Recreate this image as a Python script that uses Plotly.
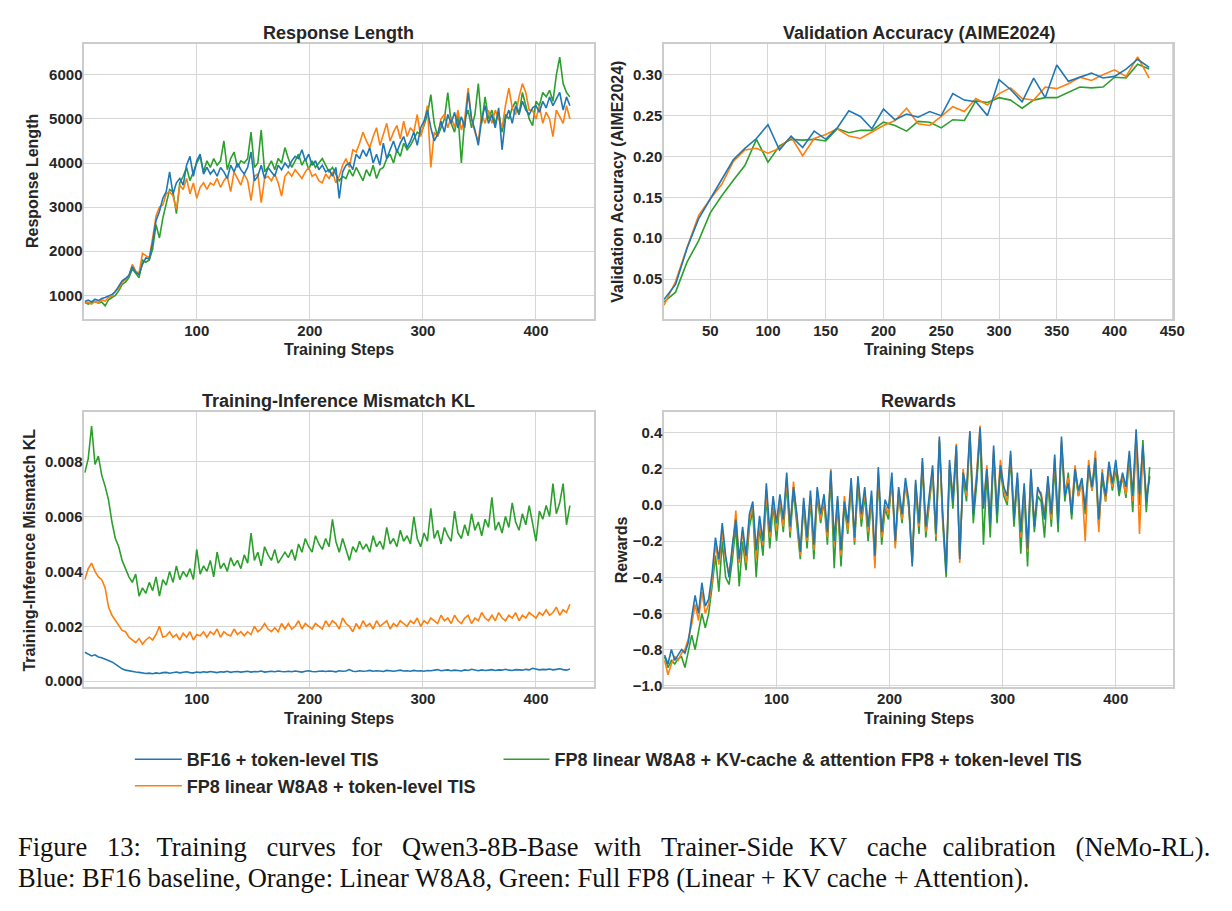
import plotly.graph_objects as go

# ---------------- data ----------------
steps = list(range(1, 431, 3))          # training steps (sampled every 3)
val_steps = list(range(10, 431, 10))    # validation every 10 steps

resp_bf16 = [
    860, 890, 850, 910, 880, 930, 950, 980, 1020, 1080, 1200, 1330,
    1380, 1450, 1650, 1520, 1470, 1700, 1850, 1820, 2200, 2700, 2900, 3200,
    3350, 3800, 3300, 3550, 3650, 3500, 3950, 4150, 3700, 4050, 4200, 3750,
    3900, 3750, 3850, 3700, 3900, 3800, 3650, 3950, 3800, 4000, 3850, 3750,
    3900, 4250, 3600, 3700, 3950, 3650, 3900, 3800, 3700, 3950, 3850, 4000,
    3900, 4050, 4150, 4100, 4300, 4050, 4200, 3950, 4050, 3850, 3950, 3800,
    3850, 3700, 3900, 3200, 3800, 3950, 4000, 3850, 4200, 4100, 4300, 4150,
    4350, 4000, 4200, 3950, 4450, 4100, 4300, 4500, 4250, 4450, 4600, 4350,
    4500, 4700, 4400, 4800, 4950, 5200, 4800, 4500, 4650, 4950, 4700, 5100,
    4900, 5150, 4800, 5050, 4800, 5600, 5000, 4750, 4400, 5000, 5300, 4900,
    5100, 4800, 5250, 4300, 5000, 5200, 4900, 5300, 5100, 5400, 5200, 5100,
    5250, 5300, 5150, 5400, 5250, 5500, 5300, 5450, 5600, 5200, 5500, 5300,
]
resp_fp8lin = [
    820, 840, 800, 860, 830, 900, 870, 950, 980, 1100, 1150, 1300,
    1350, 1450, 1700, 1550, 1500, 1950, 1900, 1850, 2300, 2800, 3000, 3050,
    3300, 3350, 3250, 2950, 3500, 3400, 3650, 3300, 3550, 3200, 3450, 3550,
    3400, 3550, 3500, 3650, 3450, 3600, 3700, 3350, 3800, 3650, 3500, 3750,
    3600, 3150, 3700, 3750, 3100, 3650, 3700, 3600, 3750, 3550, 3250, 3700,
    3800, 3700, 3850, 3750, 3650, 3800, 3900, 3700, 3750, 3600, 3550, 3750,
    3650, 3800, 3550, 3700, 3950, 4100, 3900, 4300, 4250, 4450, 4700, 4500,
    4350, 4600, 4800, 4400, 4650, 4900, 4500, 4700, 4850, 4550, 4950, 4600,
    4800, 4700, 5100, 4600, 4900, 5300, 3900, 4700, 4600, 5000, 5100, 4800,
    5050, 4800, 5200, 4750, 5000, 5700, 5000, 4700, 4500, 5100, 4900, 5200,
    4900, 5200, 5000, 4800, 5300, 5700, 5250, 5100, 5500, 5800, 5600, 5200,
    5200, 5000, 5300, 4900, 5150, 5000, 4600, 5200, 5050, 4900, 5300, 5000,
]
resp_fp8full = [
    840, 800, 830, 860, 820, 850, 760, 900, 950, 1000, 1100, 1250,
    1300, 1400, 1600, 1500, 1400, 1800, 1750, 1800, 2050, 2600, 2300, 2750,
    3100, 3400, 3350, 2850, 3550, 3700, 3900, 3600, 3800, 4000, 4150, 3800,
    4050, 3900, 4100, 3950, 4050, 4500, 3850, 4100, 4250, 3900, 4050, 4000,
    4100, 4700, 3900, 4000, 4750, 3800, 3900, 4050, 3850, 4100, 4000, 4350,
    4100, 3900, 4050, 4200, 3950, 4100, 3850, 4050, 3900, 4000, 4100, 3950,
    3800, 3900, 3750, 3600, 3700, 3650, 3850, 3700, 3900, 3750, 3600, 3850,
    3700, 3950, 3650, 3850, 3900, 4100, 4200, 4000, 4300, 4150, 4450, 4300,
    4400, 4550, 4700, 4650, 4850, 5100, 5550, 4900, 4600, 4800, 5000, 5600,
    4900, 4700, 5100, 4000, 5000, 5200, 4800, 5100, 5800, 4900, 5500, 5000,
    5200, 4900, 5150, 4700, 5100, 5000, 5250, 5400, 5100, 5600, 5300, 5000,
    4850, 5400, 5300, 5600, 5500, 5650, 5400, 6000, 6400, 5800, 5600, 5500,
]

val_bf16 = [0.025, 0.0435, 0.088, 0.124, 0.148, 0.172, 0.196, 0.210, 0.222, 0.239,
            0.208, 0.225, 0.211, 0.231, 0.221, 0.235, 0.256, 0.249, 0.234, 0.258,
            0.245, 0.252, 0.248, 0.255, 0.250, 0.277, 0.269, 0.267, 0.250, 0.294,
            0.282, 0.267, 0.296, 0.272, 0.312, 0.292, 0.297, 0.302, 0.296, 0.298,
            0.307, 0.319, 0.309]
val_fp8lin = [0.018, 0.047, 0.089, 0.128, 0.148, 0.166, 0.194, 0.208, 0.210, 0.204,
              0.210, 0.224, 0.201, 0.222, 0.227, 0.234, 0.225, 0.222, 0.230, 0.238,
              0.244, 0.259, 0.240, 0.238, 0.249, 0.261, 0.255, 0.271, 0.263, 0.277,
              0.284, 0.271, 0.269, 0.285, 0.283, 0.289, 0.297, 0.293, 0.300, 0.306,
              0.298, 0.322, 0.296]
val_fp8full = [0.022, 0.034, 0.071, 0.097, 0.131, 0.152, 0.171, 0.189, 0.221, 0.193,
               0.213, 0.221, 0.220, 0.221, 0.219, 0.234, 0.229, 0.232, 0.232, 0.242,
               0.238, 0.231, 0.243, 0.242, 0.235, 0.245, 0.244, 0.268, 0.266, 0.272,
               0.269, 0.259, 0.269, 0.272, 0.272, 0.279, 0.285, 0.284, 0.285, 0.297,
               0.296, 0.313, 0.307]

kl_bf16 = [
    0.00105, 0.00098, 0.00092, 0.00096, 0.00088, 0.00085, 0.00080, 0.00076, 0.00070, 0.00062, 0.00052, 0.00045,
    0.00040, 0.00037, 0.00035, 0.00033, 0.00032, 0.00030, 0.00028, 0.00029, 0.00027, 0.00030, 0.00028, 0.00031,
    0.00032, 0.00029, 0.00031, 0.00033, 0.00030, 0.00032, 0.00034, 0.00031, 0.00030, 0.00033, 0.00031, 0.00034,
    0.00032, 0.00035, 0.00033, 0.00031, 0.00034, 0.00033, 0.00036, 0.00032, 0.00034, 0.00035, 0.00033, 0.00034,
    0.00036, 0.00033, 0.00035, 0.00034, 0.00037, 0.00033, 0.00035, 0.00036, 0.00034, 0.00037, 0.00035, 0.00034,
    0.00036, 0.00034, 0.00037, 0.00035, 0.00033, 0.00036, 0.00038, 0.00035, 0.00034, 0.00036, 0.00037, 0.00035,
    0.00037, 0.00036, 0.00034, 0.00038, 0.00036, 0.00037, 0.00042, 0.00036, 0.00035, 0.00038, 0.00036, 0.00037,
    0.00039, 0.00036, 0.00038, 0.00037, 0.00035, 0.00039, 0.00037, 0.00036, 0.00038, 0.00040, 0.00037, 0.00038,
    0.00036, 0.00039, 0.00037, 0.00038, 0.00036, 0.00039, 0.00038, 0.00040, 0.00042, 0.00038, 0.00039, 0.00041,
    0.00038, 0.00040, 0.00039, 0.00037, 0.00041, 0.00039, 0.00043, 0.00040, 0.00038, 0.00041, 0.00039, 0.00040,
    0.00042, 0.00039, 0.00041, 0.00040, 0.00043, 0.00040, 0.00039, 0.00042, 0.00041, 0.00040, 0.00043, 0.00041,
    0.00047, 0.00044, 0.00041, 0.00043, 0.00042, 0.00044, 0.00041, 0.00043, 0.00045, 0.00042, 0.00040, 0.00044,
]
kl_fp8lin = [
    0.0037, 0.0041, 0.0043, 0.0040, 0.0038, 0.0037, 0.0034, 0.0027, 0.0024, 0.0022, 0.0020, 0.00185,
    0.0018, 0.0016, 0.0015, 0.0014, 0.00155, 0.00135, 0.0015, 0.0016, 0.0015, 0.0017, 0.0020, 0.0016,
    0.00165, 0.0018, 0.0016, 0.0017, 0.0015, 0.00175, 0.0016, 0.0018, 0.0015, 0.0017, 0.00165, 0.0018,
    0.0016, 0.0018, 0.0017, 0.0019, 0.0016, 0.0018, 0.0017, 0.00165, 0.0019, 0.0017, 0.0018, 0.00165,
    0.0018, 0.0017, 0.0020, 0.0018, 0.0019, 0.0021, 0.0019, 0.0018, 0.00195, 0.0018, 0.0021, 0.0019,
    0.0021, 0.0019, 0.0020, 0.0022, 0.0019, 0.0021, 0.0020, 0.0019, 0.0021, 0.0020, 0.0019, 0.0022,
    0.0020, 0.0022, 0.0021, 0.0019, 0.0023, 0.0021, 0.0020, 0.0018, 0.0021, 0.0019, 0.0022, 0.0020,
    0.0021, 0.0019, 0.0022, 0.0020, 0.0021, 0.0022, 0.0019, 0.0021, 0.0020, 0.0022, 0.0021, 0.0020,
    0.0022, 0.0021, 0.0023, 0.0020, 0.0022, 0.0021, 0.0023, 0.0022, 0.0021, 0.0024, 0.0022, 0.0023,
    0.0021, 0.0024, 0.0022, 0.0021, 0.0023, 0.0024, 0.0021, 0.0023, 0.0022, 0.0025, 0.0023, 0.0022,
    0.0024, 0.0022, 0.0025, 0.0023, 0.0022, 0.0024, 0.0023, 0.0025, 0.0022, 0.0024, 0.0023, 0.0025,
    0.0024, 0.0023, 0.0025, 0.0024, 0.0026, 0.0024, 0.0025, 0.0027, 0.0024, 0.0026, 0.0025, 0.0028,
]
kl_fp8full = [
    0.0076, 0.0081, 0.0093, 0.0079, 0.0082, 0.0075, 0.0071, 0.0066, 0.0058, 0.0052, 0.0049, 0.0044,
    0.0041, 0.0038, 0.0036, 0.0039, 0.0031, 0.0034, 0.0032, 0.0036, 0.0033, 0.0038, 0.0031, 0.0037,
    0.0035, 0.0040, 0.0036, 0.0042, 0.0037, 0.0040, 0.0038, 0.0041, 0.0037, 0.0048, 0.0039, 0.0042,
    0.0040, 0.0044, 0.0038, 0.0047, 0.0041, 0.0043, 0.0040, 0.0045, 0.0042, 0.0044, 0.0041, 0.0046,
    0.0043, 0.0054, 0.0044, 0.0047, 0.0042, 0.0049, 0.0046, 0.0044, 0.0048, 0.0043, 0.0045, 0.0047,
    0.0045, 0.0048, 0.0044, 0.0050, 0.0047, 0.0052, 0.0049, 0.0047, 0.0053, 0.0050, 0.0048, 0.0052,
    0.0049, 0.0059, 0.0051, 0.0047, 0.0052, 0.0048, 0.0044, 0.0049, 0.0047, 0.0051, 0.0048, 0.0050,
    0.0047, 0.0053, 0.0049, 0.0051, 0.0048, 0.0056, 0.0050, 0.0052, 0.0049, 0.0055, 0.0051, 0.0053,
    0.0050, 0.0060, 0.0052, 0.0049, 0.0054, 0.0051, 0.0063, 0.0052, 0.0055, 0.0050, 0.0056, 0.0053,
    0.0051, 0.0062, 0.0054, 0.0052, 0.0057, 0.0053, 0.0061, 0.0055, 0.0058, 0.0053, 0.0059, 0.0056,
    0.0067, 0.0055, 0.0058, 0.0054, 0.0060, 0.0056, 0.0065, 0.0058, 0.0055, 0.0061, 0.0057, 0.0064,
    0.0058, 0.0051, 0.0062, 0.0059, 0.0064, 0.0060, 0.0072, 0.0061, 0.0065, 0.0072, 0.0057, 0.0064,
]

rew_bf16 = [
    -0.83, -0.88, -0.80, -0.86, -0.83, -0.80, -0.82, -0.76, -0.62, -0.50, -0.60, -0.43,
    -0.56, -0.52, -0.38, -0.18, -0.30, -0.10, -0.28, -0.40, -0.22, -0.08, -0.30, -0.12,
    -0.28, -0.05, 0.02, -0.25, -0.06, -0.20, 0.12, -0.15, 0.05, -0.10, 0.06, -0.08,
    0.18, -0.12, 0.10, -0.05, -0.26, 0.04, -0.18, 0.08, -0.22, 0.10, -0.05, 0.06,
    -0.15, 0.19, -0.20, 0.05, -0.25, 0.02, -0.10, 0.15, -0.18, 0.16, -0.05, 0.10,
    -0.12, 0.08, -0.28, 0.21, -0.15, 0.03, -0.02, 0.18, -0.20, 0.10, -0.05, 0.15,
    0.02, -0.34, 0.14, -0.10, 0.26, -0.12, 0.05, 0.22, -0.16, 0.38, -0.05, -0.37,
    0.25, 0.02, 0.33, -0.30, 0.18, 0.08, 0.41, -0.05, 0.15, 0.43, -0.02, 0.20,
    -0.10, 0.33, -0.05, 0.22, 0.10, 0.05, 0.30, -0.08, 0.18, -0.15, 0.12, -0.24,
    0.20, -0.12, 0.10, 0.05, -0.08, 0.16, -0.05, 0.28, -0.10, 0.38, 0.05, 0.12,
    -0.05, 0.20, 0.08, 0.15, -0.02, 0.22, 0.10, 0.26, -0.08, 0.18, 0.05, 0.24,
    0.12, 0.25, 0.08, 0.18, 0.10, 0.30, 0.05, 0.42, 0.06, 0.33, 0.02, 0.16,
]
rew_fp8lin = [
    -0.86, -0.94, -0.88, -0.84, -0.86, -0.82, -0.80, -0.74, -0.66, -0.55, -0.64, -0.48,
    -0.60, -0.55, -0.42, -0.22, -0.33, -0.15, -0.30, -0.38, -0.25, -0.03, -0.32, -0.14,
    -0.32, -0.08, 0.00, -0.30, -0.10, -0.22, 0.08, -0.18, 0.03, -0.14, 0.04, -0.12,
    0.15, -0.15, 0.13, -0.08, -0.28, 0.02, -0.20, 0.05, -0.25, 0.08, -0.08, 0.03,
    -0.18, 0.20, -0.22, 0.03, -0.28, 0.05, -0.14, 0.12, -0.20, 0.14, -0.08, 0.08,
    -0.15, 0.05, -0.35, 0.18, -0.18, 0.00, -0.05, 0.15, -0.24, 0.08, -0.08, 0.12,
    0.00, -0.30, 0.12, -0.12, 0.24, -0.15, 0.02, 0.20, -0.18, 0.36, -0.08, -0.34,
    0.22, 0.05, 0.34, -0.32, 0.20, 0.05, 0.40, -0.02, 0.18, 0.44, 0.00, 0.22,
    -0.08, 0.30, -0.02, 0.25, 0.08, 0.02, 0.28, -0.05, 0.15, -0.18, 0.10, -0.26,
    0.18, -0.10, 0.08, 0.07, -0.05, 0.14, -0.08, 0.26, -0.08, 0.35, 0.08, 0.15,
    -0.02, 0.22, 0.05, 0.12, -0.20, 0.25, 0.08, 0.30, -0.15, 0.20, 0.02, 0.20,
    0.10, 0.22, 0.12, 0.15, 0.06, 0.28, 0.02, 0.38, -0.16, 0.30, 0.05, 0.15,
]
rew_fp8full = [
    -0.84, -0.90, -0.86, -0.88, -0.85, -0.84, -0.90, -0.80, -0.72, -0.80, -0.70, -0.60,
    -0.68, -0.60, -0.45, -0.28, -0.48, -0.20, -0.40, -0.44, -0.30, -0.12, -0.45, -0.20,
    -0.36, -0.12, -0.03, -0.40, -0.12, -0.28, 0.05, -0.24, 0.00, -0.20, 0.02, -0.15,
    0.12, -0.18, 0.08, -0.10, -0.30, 0.00, -0.24, 0.03, -0.30, 0.05, -0.10, 0.02,
    -0.22, 0.16, -0.35, 0.02, -0.34, 0.00, -0.16, 0.10, -0.22, 0.12, -0.12, 0.06,
    -0.20, 0.04, -0.32, 0.16, -0.22, -0.02, -0.08, 0.14, -0.22, 0.06, -0.10, 0.12,
    -0.02, -0.32, 0.10, -0.16, 0.22, -0.18, 0.00, 0.18, -0.20, 0.35, -0.10, -0.40,
    0.20, -0.02, 0.30, -0.28, 0.15, 0.02, 0.38, -0.10, 0.12, 0.40, -0.22, 0.18,
    -0.18, 0.28, -0.10, 0.20, 0.05, 0.00, 0.26, -0.12, 0.14, -0.27, 0.08, -0.34,
    0.15, -0.15, 0.05, 0.02, -0.18, 0.12, -0.12, 0.22, -0.15, 0.33, 0.02, 0.18,
    -0.08, 0.18, 0.05, 0.14, -0.05, 0.20, 0.08, 0.22, -0.12, 0.15, 0.02, 0.22,
    0.08, 0.20, 0.05, 0.16, 0.04, 0.26, -0.04, 0.36, 0.00, 0.36, -0.04, 0.21,
]

series_names = {
    "bf16": "BF16 + token-level TIS",
    "fp8lin": "FP8 linear W8A8 + token-level TIS",
    "fp8full": "FP8 linear W8A8 + KV-cache & attention FP8 + token-level TIS",
}
panel_titles = ["Response Length", "Validation Accuracy (AIME2024)",
                "Training-Inference Mismatch KL", "Rewards"]
y_titles = ["Response Length", "Validation Accuracy (AIME2024)",
            "Training-Inference Mismatch KL", "Rewards"]
x_title = "Training Steps"
caption_lines = [
    "Figure 13: Training curves for Qwen3-8B-Base with Trainer-Side KV cache calibration (NeMo-RL).",
    "Blue: BF16 baseline, Orange: Linear W8A8, Green: Full FP8 (Linear + KV cache + Attention).",
]

# ---------------- styling ----------------
W, H = 1232, 911
colors = {"bf16": "#1f77b4", "fp8lin": "#ff7f0e", "fp8full": "#2ca02c"}
legend_of = {"bf16": "legend", "fp8lin": "legend", "fp8full": "legend2"}
ranks = {"bf16": 1, "fp8lin": 2, "fp8full": 3}
draw_order = ["fp8full", "fp8lin", "bf16"]
SANS = "Liberation Sans, Arial, Helvetica, sans-serif"
TXT = "#262626"

def px_x(p):
    return p / W

def px_y(p):
    return (H - p) / H

# panel frames in pixels (left, top, right, bottom)
frames = [(85, 44, 599, 321), (670, 44, 1184, 321),
          (85, 415, 599, 692), (670, 415, 1184, 692)]

panels = [
    (steps, {"bf16": resp_bf16, "fp8lin": resp_fp8lin, "fp8full": resp_fp8full}),
    (val_steps, {"bf16": val_bf16, "fp8lin": val_fp8lin, "fp8full": val_fp8full}),
    (steps, {"bf16": kl_bf16, "fp8lin": kl_fp8lin, "fp8full": kl_fp8full}),
    (steps, {"bf16": rew_bf16, "fp8lin": rew_fp8lin, "fp8full": rew_fp8full}),
]

x_ranges = [[0.5, 451], [10, 451], [0.5, 451], [0.5, 451]]
y_ranges = [[465, 6706], [0.0013, 0.338], [-0.00023, 0.0098], [-1.01, 0.514]]
x_ticks = [[100, 200, 300, 400], [50, 100, 150, 200, 250, 300, 350, 400, 450],
           [100, 200, 300, 400], [100, 200, 300, 400]]
y_ticks = [[1000, 2000, 3000, 4000, 5000, 6000],
           [0.05, 0.10, 0.15, 0.20, 0.25, 0.30],
           [0.000, 0.002, 0.004, 0.006, 0.008],
           [-1.0, -0.8, -0.6, -0.4, -0.2, 0.0, 0.2, 0.4]]
y_fmt = ["d", ".2f", ".3f", ".1f"]

fig = go.Figure()
for i, (xs, data) in enumerate(panels):
    sfx = "" if i == 0 else str(i + 1)
    for key in draw_order:
        fig.add_trace(go.Scatter(
            x=xs, y=data[key], mode="lines",
            line=dict(color=colors[key], width=1.6),
            name=series_names[key], legendgroup=key, legendrank=ranks[key],
            legend=legend_of[key],
            showlegend=(i == 0), xaxis="x" + sfx, yaxis="y" + sfx,
            hoverinfo="skip",
        ))

axis_common = dict(
    showgrid=True, gridcolor="#d6d6d6", gridwidth=1,
    showline=True, linecolor="#cccccc", linewidth=1.5, mirror=True,
    zeroline=False, ticks="", ticklen=0, ticklabelstandoff=-3,
    tickfont=dict(family=SANS, size=15, color=TXT, weight="bold"),
)

legend_font = dict(family=SANS, size=18, color=TXT, weight="bold")
layout = dict(
    width=W, height=H, margin=dict(l=0, r=0, t=0, b=0),
    paper_bgcolor="white", plot_bgcolor="white",
    showlegend=True,
    legend=dict(
        orientation="v", x=px_x(131), y=px_y(746), xanchor="left", yanchor="top",
        traceorder="normal", font=legend_font, itemwidth=47,
        bgcolor="rgba(0,0,0,0)", tracegroupgap=0,
    ),
    legend2=dict(
        orientation="v", x=px_x(503), y=px_y(746), xanchor="left", yanchor="top",
        traceorder="normal", font=legend_font, itemwidth=46,
        bgcolor="rgba(0,0,0,0)", tracegroupgap=0,
    ),
)
annotations = []
for i, (l, t, r, b) in enumerate(frames):
    sfx = "" if i == 0 else str(i + 1)
    layout["xaxis" + sfx] = dict(
        axis_common, domain=[px_x(l), px_x(r)], anchor="y" + sfx,
        range=x_ranges[i], tickvals=x_ticks[i],
    )
    layout["yaxis" + sfx] = dict(
        axis_common, domain=[px_y(b), px_y(t)], anchor="x" + sfx,
        range=y_ranges[i], tickvals=y_ticks[i], tickformat=y_fmt[i],
    )
    cx = (l + r) / 2
    annotations.append(dict(
        text=panel_titles[i], x=px_x(cx), y=px_y(t - 11), xref="paper", yref="paper",
        xanchor="center", yanchor="middle", showarrow=False,
        font=dict(family=SANS, size=18, color=TXT, weight="bold"),
    ))
    annotations.append(dict(
        text=x_title, x=px_x(cx), y=px_y(b + 31), xref="paper", yref="paper",
        xanchor="center", yanchor="middle", showarrow=False,
        font=dict(family=SANS, size=16, color=TXT, weight="bold"),
    ))
    ylab_x = [33, 623, 30, 627][i]
    annotations.append(dict(
        text=y_titles[i], x=px_x(ylab_x), y=px_y((t + b) / 2), xref="paper", yref="paper",
        xanchor="center", yanchor="middle", showarrow=False, textangle=-90,
        font=dict(family=SANS, size=16, color=TXT, weight="bold"),
    ))

# first caption line is justified in the reference: widen its word gaps
words = caption_lines[0].split(" ")
line1 = words[0]
for k, w in enumerate(words[1:]):
    line1 += (" \u2002" if k % 2 == 0 else " \u2004") + w
caption_text = [line1, caption_lines[1]]
for j, line in enumerate(caption_text):
    annotations.append(dict(
        text=line, x=px_x(16), y=px_y(853 + 31 * j), xref="paper", yref="paper",
        xanchor="left", yanchor="middle", showarrow=False,
        font=dict(family="Liberation Serif, Times New Roman, serif",
                  size=26.5, color="#111111"),
    ))

layout["annotations"] = annotations
fig.update_layout(**layout)
fig.write_html("out.html")
